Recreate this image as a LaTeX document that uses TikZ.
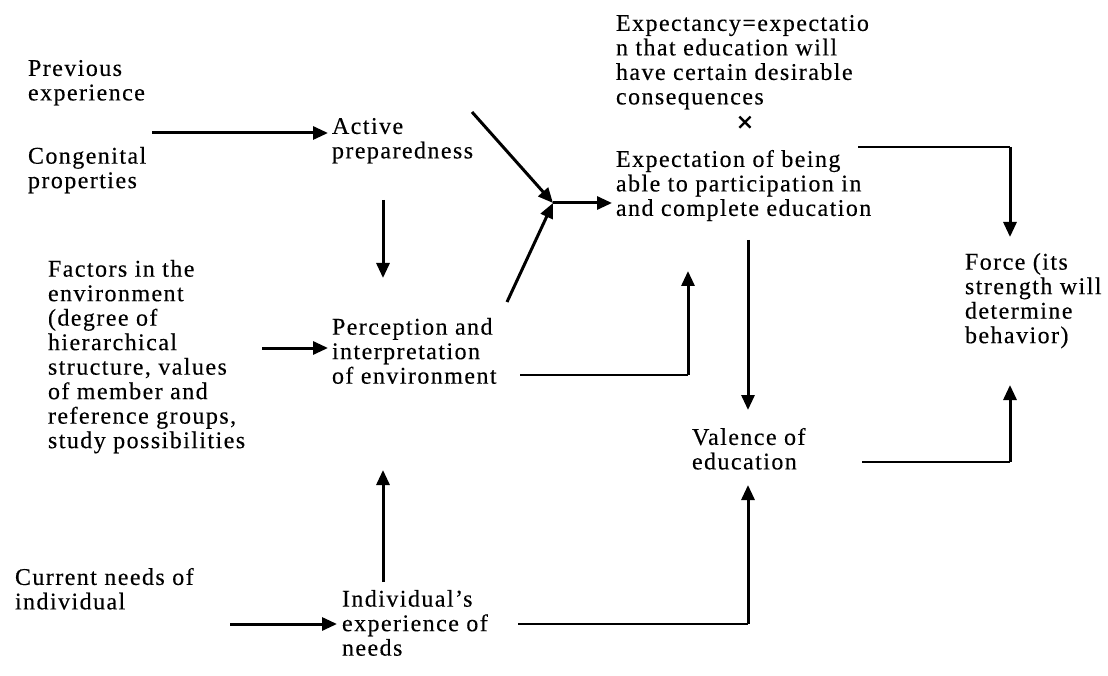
\documentclass[tikz,border=0pt]{standalone}
\usepackage{fontspec}
\setmainfont[LetterSpace=6,FakeBold=0.3]{Liberation Serif}
\usetikzlibrary{arrows.meta}
\begin{document}
\begin{tikzpicture}[x=1pt,y=-1pt,
  lbl/.style={anchor=north west, align=left, inner sep=0pt, outer sep=0pt,
              font=\fontsize{24}{24.5}\selectfont},
  flow/.style={line width=3pt, -{Triangle[length=15pt,width=13pt]}},
  link/.style={line width=1.5pt},
  ]
\useasboundingbox (0,0) rectangle (1108,676);

% text blocks
\node[lbl] (prev)    at (28,60)   {Previous\\experience};
\node[lbl] (cong)    at (28,147)  {Congenital\\properties};
\node[lbl] (active)  at (332,118) {Active\\preparedness};
\node[lbl] (expect)  at (616,15)  {Expectancy=expectatio\\n that education will\\have certain desirable\\consequences};
\node[font=\fontsize{30}{30}\selectfont\bfseries, inner sep=0pt] (times) at (745,124) {×};
\node[lbl] (expn)    at (616,150) {Expectation of being\\able to participation in\\and complete education};
\node[lbl] (force)   at (965,253) {Force (its\\strength will\\determine\\behavior)};
\node[lbl] (factors) at (48,260)  {Factors in the\\environment\\(degree of\\hierarchical\\structure, values\\of member and\\reference groups,\\study possibilities};
\node[lbl] (percep)  at (332,318) {Perception and\\interpretation\\of environment};
\node[lbl] (valence) at (692,428) {Valence of\\education};
\node[lbl] (current) at (15,568)  {Current needs of\\individual};
\node[lbl] (indiv)   at (342,590) {Individual’s\\experience of\\needs};

% connector waypoints
\coordinate (pc)  at (152,133);
\coordinate (a1)  at (472,112);
\coordinate (p1)  at (507,302);
\coordinate (j)   at (553,203);
\coordinate (e1)  at (858,147);
\coordinate (fc)  at (1010,147);
\coordinate (ft)  at (1010,237);
\coordinate (v1)  at (862,462);
\coordinate (fv)  at (1010,462);
\coordinate (fb)  at (1010,385);
\coordinate (xd0) at (748,240);
\coordinate (xd1) at (748,410);
\coordinate (p2)  at (520,375);
\coordinate (pu)  at (688,375);
\coordinate (pt)  at (688,271);
\coordinate (ad0) at (383,200);
\coordinate (ad1) at (383,278);
\coordinate (fe)  at (262,348);
\coordinate (iu0) at (383,582);
\coordinate (iu1) at (383,470);
\coordinate (ce)  at (230,624);
\coordinate (i1)  at (518,624);
\coordinate (vu)  at (748,624);
\coordinate (vt)  at (748,485);

% connectors
\draw[flow] (pc) -- ([xshift=-4pt]pc -| active.west);
\draw[flow] (a1) -- (j);
\draw[flow] (p1) -- (j);
\draw[flow] (j) -- ([xshift=-4pt]j -| expn.west);
\draw[link] (e1) -- (fc);
\draw[flow] (fc) -- (ft);
\draw[link] (v1) -- (fv);
\draw[flow] (fv) -- (fb);
\draw[flow] (xd0) -- (xd1);
\draw[link] (p2) -- (pu);
\draw[flow] (pu) -- (pt);
\draw[flow] (ad0) -- (ad1);
\draw[flow] (fe) -- ([xshift=-4pt]fe -| percep.west);
\draw[flow] (iu0) -- (iu1);
\draw[flow] (ce) -- ([xshift=-5pt]ce -| indiv.west);
\draw[link] (i1) -- (vu);
\draw[flow] (vu) -- (vt);
\end{tikzpicture}
\end{document}
